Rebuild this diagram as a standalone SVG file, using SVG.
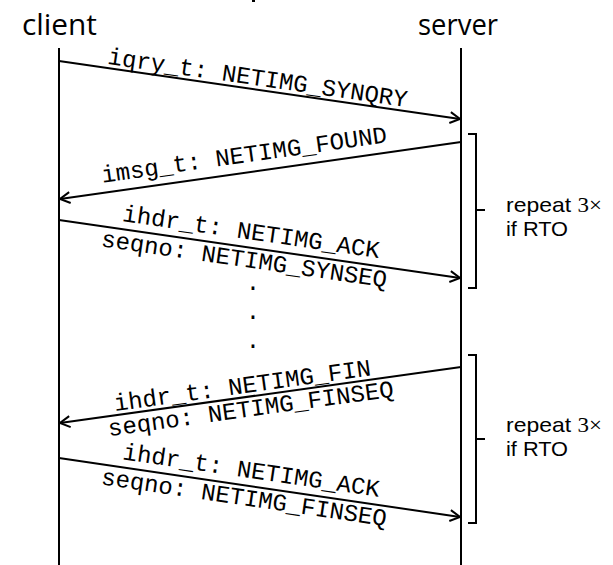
<svg xmlns="http://www.w3.org/2000/svg" width="613" height="565" viewBox="0 0 613 565">
<style>
.life{stroke:#000;stroke-width:2;fill:none}
.msg{stroke:#000;stroke-width:2;fill:none;marker-end:url(#ah)}
.brk{stroke:#000;stroke-width:2;fill:none}
.mono{font-family:"Liberation Mono","Courier New",monospace;font-size:24px;fill:#000}
.title{font-family:"Open Sans","Noto Sans",sans-serif;font-size:30px;fill:#000}
.note{font-family:"Liberation Sans",Arial,sans-serif;font-size:21px;fill:#000}
.num{font-family:"Liberation Serif",serif}
</style>
<defs>
<marker id="ah" markerUnits="userSpaceOnUse" markerWidth="14" markerHeight="14" viewBox="-12 -7 14 14" refX="0" refY="0" orient="auto">
<path d="M -10 -5.5 L 0 0 L -10 5.5" fill="none" stroke="#000" stroke-width="2"/>
</marker>
</defs>
<rect x="252" y="0" width="3" height="2" fill="#000"/>
<g id="client">
<text class="title" x="22" y="35" textLength="75" lengthAdjust="spacingAndGlyphs">client</text>
<line class="life" x1="59" y1="48" x2="59" y2="565"/>
</g>
<g id="server">
<text class="title" x="418" y="35" textLength="80" lengthAdjust="spacingAndGlyphs">server</text>
<line class="life" x1="461" y1="48" x2="461" y2="565"/>
</g>
<g id="labels">
<text class="mono" text-anchor="middle" transform="translate(256,89.4) rotate(8.21)" y="-4">iqry_t: NETIMG_SYNQRY</text>
<text class="mono" text-anchor="middle" transform="translate(246.5,172.4) rotate(-8.07)" y="-10">imsg_t: NETIMG_FOUND</text>
<text class="mono" text-anchor="middle" transform="translate(249,247.4) rotate(8.21)" y="-8">ihdr_t: NETIMG_ACK</text>
<text class="mono" text-anchor="middle" transform="translate(246,247) rotate(8.21)" y="20">seqno: NETIMG_SYNSEQ</text>
<text class="mono" text-anchor="middle" x="253" y="290">.</text>
<text class="mono" text-anchor="middle" x="253" y="319">.</text>
<text class="mono" text-anchor="middle" x="253" y="348">.</text>
<text class="mono" text-anchor="middle" transform="translate(244,397.2) rotate(-7.93)" y="-4">ihdr_t: NETIMG_FIN</text>
<text class="mono" text-anchor="middle" transform="translate(249,396.5) rotate(-7.93)" y="20">seqno: NETIMG_FINSEQ</text>
<text class="mono" text-anchor="middle" transform="translate(249,485.9) rotate(8.35)" y="-8">ihdr_t: NETIMG_ACK</text>
<text class="mono" text-anchor="middle" transform="translate(246,485.4) rotate(8.35)" y="20">seqno: NETIMG_FINSEQ</text>
</g>
<g id="connectors">
<line class="msg" x1="59" y1="61" x2="460" y2="119"/>
<line class="msg" x1="461" y1="142" x2="60" y2="199"/>
<line class="msg" x1="59" y1="220" x2="460" y2="278"/>
<line class="msg" x1="461" y1="367" x2="60" y2="423"/>
<line class="msg" x1="59" y1="458" x2="460" y2="517"/>
</g>
<g id="repeat1">
<path class="brk" d="M468 134 H476 V288 H468 M476 210 H485"/>
<text class="note" x="506" y="212" textLength="96" lengthAdjust="spacingAndGlyphs">repeat <tspan class="num">3×</tspan></text>
<text class="note" x="506" y="236" textLength="62" lengthAdjust="spacingAndGlyphs">if RTO</text>
</g>
<g id="repeat2">
<path class="brk" d="M468 355 H476 V523 H468 M476 439 H485"/>
<text class="note" x="506" y="432" textLength="96" lengthAdjust="spacingAndGlyphs">repeat <tspan class="num">3×</tspan></text>
<text class="note" x="506" y="456" textLength="62" lengthAdjust="spacingAndGlyphs">if RTO</text>
</g>
</svg>
